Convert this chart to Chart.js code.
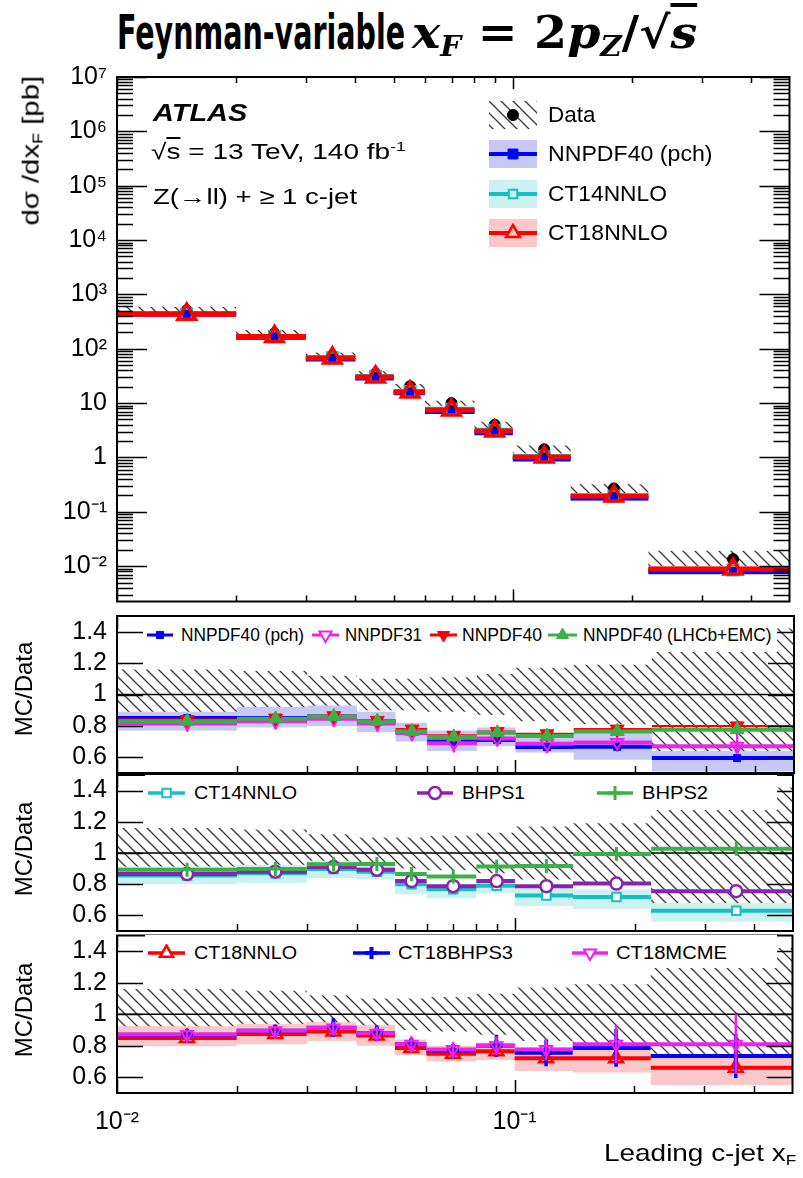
<!DOCTYPE html>
<html>
<head>
<meta charset="utf-8">
<title>Leading c-jet xF</title>
<script src="https://cdn.jsdelivr.net/npm/chart.js@4.4.1/dist/chart.umd.min.js"></script>
<style>
  body { margin: 0; background: #fff; }
  #page { position: relative; width: 803px; height: 1178px; overflow: hidden; background: #fff;
          font-family: "Liberation Sans", Arial, Helvetica, sans-serif; color: #000; }
  #page canvas.panel { position: absolute; left: 0; }
  .t { position: absolute; white-space: nowrap; line-height: 1; transform-origin: 0 50%; }
  .box { position: absolute; background: #fff; }
  sub { font-size: 0.62em; vertical-align: -0.3em; }
  sup { font-size: 0.62em; vertical-align: 0.6em; }
</style>
</head>
<body>
<div id="page">
  <canvas class="panel" id="cMain" width="803" height="555" style="top:60px"></canvas>
  <canvas class="panel" id="cR1" width="803" height="175" style="top:607px"></canvas>
  <canvas class="panel" id="cR2" width="803" height="176" style="top:765px"></canvas>
  <canvas class="panel" id="cR3" width="803" height="230" style="top:925px"></canvas>
</div>
<script>
'use strict';

/*================ values ================*/

var xEdges   = [0.01, 0.02, 0.03, 0.04, 0.05, 0.06, 0.08, 0.1, 0.14, 0.22, 0.5];
var xCenters = [0.015, 0.025, 0.035, 0.045, 0.055, 0.07, 0.09, 0.12, 0.18, 0.36];

// main panel, dsigma/dxF [pb]
var dataXsec       = [510, 192, 76, 35, 20.5, 10.0, 4.0, 1.42, 0.27, 0.0135];
var dataRelErr     = [0.16, 0.15, 0.12, 0.10, 0.10, 0.11, 0.13, 0.17, 0.19, 0.42];
var nnpdf40pchXsec = [434, 163, 65, 29, 15.6, 7.0, 2.84, 0.94, 0.18, 0.0080];
var ct14Xsec       = [436, 167, 68, 31, 16.4, 7.7, 3.16, 1.03, 0.194, 0.0085];
var ct18Xsec       = [433, 168, 67.5, 30.3, 16.1, 7.5, 3.06, 1.02, 0.195, 0.0089];

// ratio panel 1
var r1Nnpdf40pch   = [0.85, 0.85, 0.86, 0.83, 0.76, 0.70, 0.71, 0.665, 0.667, 0.595];
var r1Nnpdf40pchHi = [0.89, 0.92, 0.93, 0.89, 0.82, 0.77, 0.79, 0.735, 0.757, 0.64];
var r1Nnpdf40pchLo = [0.77, 0.79, 0.80, 0.76, 0.70, 0.64, 0.67, 0.63, 0.585, 0.51];
var r1Nnpdf31      = [0.815, 0.83, 0.845, 0.815, 0.755, 0.69, 0.72, 0.686, 0.695, 0.67];
var r1Nnpdf31Err   = [0.05, 0.05, 0.05, 0.05, 0.05, 0.06, 0.05, 0.06, 0.06, 0.09];
var r1Nnpdf40      = [0.84, 0.85, 0.865, 0.835, 0.78, 0.74, 0.765, 0.75, 0.78, 0.80];
var r1LhcbEmc      = [0.83, 0.845, 0.86, 0.83, 0.765, 0.73, 0.757, 0.735, 0.765, 0.776];

// ratio panel 2
var r2Ct14   = [0.855, 0.87, 0.897, 0.88, 0.80, 0.767, 0.79, 0.728, 0.718, 0.63];
var r2Ct14Hi = [0.913, 0.925, 0.95, 0.935, 0.83, 0.80, 0.83, 0.78, 0.767, 0.68];
var r2Ct14Lo = [0.80, 0.81, 0.84, 0.83, 0.735, 0.71, 0.745, 0.66, 0.64, 0.56];
var r2Bhps1  = [0.865, 0.88, 0.91, 0.893, 0.82, 0.787, 0.82, 0.787, 0.804, 0.755];
var r2Bhps2  = [0.893, 0.897, 0.928, 0.93, 0.865, 0.85, 0.913, 0.916, 0.994, 1.027];

// ratio panel 3
var r3Ct18     = [0.85, 0.875, 0.89, 0.865, 0.786, 0.75, 0.765, 0.72, 0.72, 0.66];
var r3Ct18Hi   = [0.924, 0.94, 0.95, 0.93, 0.84, 0.80, 0.82, 0.79, 0.80, 0.75];
var r3Ct18Lo   = [0.797, 0.81, 0.83, 0.80, 0.74, 0.70, 0.71, 0.64, 0.63, 0.55];
var r3Bhps3    = [0.87, 0.895, 0.915, 0.88, 0.81, 0.77, 0.80, 0.755, 0.786, 0.735];
var r3Bhps3Err = [0.02, 0.03, 0.06, 0.05, 0.04, 0.04, 0.07, 0.085, 0.12, 0.14];
var r3Mcme     = [0.871, 0.896, 0.913, 0.88, 0.81, 0.776, 0.80, 0.776, 0.81, 0.81];
var r3McmeErr  = [0.03, 0.03, 0.04, 0.04, 0.05, 0.05, 0.06, 0.07, 0.12, 0.19];

// ticks
var xTickVals        = [0.01, 0.1];
var xTickLabels      = ['10\u207B\u00B2', '10\u207B\u00B9'];
var mainYTickVals    = [1e-2, 1e-1, 1, 10, 1e2, 1e3, 1e4, 1e5, 1e6, 1e7];
var mainYTickLabels  = ['10\u207B\u00B2', '10\u207B\u00B9', '1', '10', '10\u00B2', '10\u00B3', '10\u2074', '10\u2075', '10\u2076', '10\u2077'];
var ratioYTickVals   = [0.6, 0.8, 1, 1.2, 1.4];
var ratioYTickLabels = ['0.6', '0.8', '1', '1.2', '1.4'];

/*================ styling ================*/

var FONT = '"Liberation Sans", Arial, Helvetica, sans-serif';
var COL = {
	blue: '#0000ff', blueBand: '#c8c8f6',
	magenta: '#ee22ee', red: '#ff0000', redBand: '#fac8c8',
	green: '#3caf47', cyan: '#14c0c0', cyanBand: '#ccf1f1', purple: '#8a22b0'
};
var CLEAR = 'rgba(0,0,0,0)';

function makeHatchTile() {
	var s = 12, c = document.createElement('canvas');
	c.width = s; c.height = s;
	var g = c.getContext('2d');
	g.strokeStyle = '#383838';
	g.lineWidth = 1.3;
	g.beginPath();
	g.moveTo(-2, -2); g.lineTo(s + 2, s + 2);
	g.moveTo(-2, s - 2); g.lineTo(2, s + 2);
	g.moveTo(s - 2, -2); g.lineTo(s + 2, 2);
	g.stroke();
	return c;
}
var hatchTile = makeHatchTile();
var hatch = document.createElement('canvas').getContext('2d').createPattern(hatchTile, 'repeat');

/*================ dataset helpers ================*/

function steps(vals) {
	var pts = vals.map(function(v, i) { return { x: xEdges[i], y: v }; });
	pts.push({ x: xEdges[vals.length], y: vals[vals.length - 1] });
	return pts;
}
function hbins(vals) {
	var pts = [];
	vals.forEach(function(v, i) {
		pts.push({ x: xEdges[i], y: v }, { x: xEdges[i + 1], y: v }, { x: xEdges[i + 1], y: null });
	});
	return pts;
}
function centers(vals) {
	return vals.map(function(v, i) { return { x: xCenters[i], y: v }; });
}
function vbars(vals, errs) {
	var pts = [];
	vals.forEach(function(v, i) {
		pts.push({ x: xCenters[i], y: v - errs[i] }, { x: xCenters[i], y: v + errs[i] }, { x: xCenters[i], y: null });
	});
	return pts;
}
function scaled(vals, num, den) {
	return vals.map(function(v, i) { return v * num[i] / den[i]; });
}

function band(list, lo, hi, color) {
	list.push({ data: steps(lo), stepped: true, borderWidth: 0, borderColor: CLEAR, pointRadius: 0, fill: false });
	list.push({ data: steps(hi), stepped: true, borderWidth: 0, borderColor: CLEAR, pointRadius: 0, fill: '-1', backgroundColor: color });
}
function hline(list, vals, color, width) {
	list.push({ data: hbins(vals), borderColor: color, borderWidth: width, pointRadius: 0, fill: false, spanGaps: false });
}
function errbars(list, vals, errs, color, width) {
	list.push({ data: vbars(vals, errs), borderColor: color, borderWidth: width, pointRadius: 0, fill: false, spanGaps: false });
}
function marks(list, vals, style, r, stroke, bg, bw, rot) {
	list.push({ data: centers(vals), showLine: false, pointStyle: style, pointRadius: r, pointBorderColor: stroke,
		pointBackgroundColor: bg, pointBorderWidth: bw, pointRotation: rot || 0, fill: false });
}
function refLine(list) {
	list.push({ data: [{ x: xEdges[0], y: 1 }, { x: xEdges[xEdges.length - 1], y: 1 }], borderColor: '#000', borderWidth: 1.5, pointRadius: 0, fill: false });
}
function finish(list) {
	// list is back-to-front; lower order is drawn on top
	list.forEach(function(d, i) { d.type = 'line'; d.order = list.length - i; });
	return list;
}

/*================ frame and inward ticks (ROOT style) ================*/

var xMinorTicks = [];
[0.01, 0.1].forEach(function(d) {
	for (var k = 2; k <= 9; k++) { if (d * k < 0.49) { xMinorTicks.push(d * k); } }
});
var mainYMinorTicks = [];
for (var e = -3; e <= 6; e++) {
	for (var k = 2; k <= 9; k++) {
		var v = k * Math.pow(10, e);
		if (v > 0.00224 && v < 1e7) { mainYMinorTicks.push(v); }
	}
}

function makeFrame(cfg) {
	return {
		id: 'rootFrame',
		afterDatasetsDraw: function(chart) {
			var ctx = chart.ctx, a = chart.chartArea, sx = chart.scales.x, sy = chart.scales.y;
			ctx.save();
			ctx.strokeStyle = '#000';
			ctx.lineWidth = 1.5;
			ctx.beginPath();
			function xt(vals, len) {
				vals.forEach(function(val) {
					var p = Math.round(sx.getPixelForValue(val)) + 0.5;
					ctx.moveTo(p, a.bottom); ctx.lineTo(p, a.bottom - len);
					ctx.moveTo(p, a.top); ctx.lineTo(p, a.top + len);
				});
			}
			function yt(vals, len) {
				vals.forEach(function(val) {
					var p = Math.round(sy.getPixelForValue(val)) + 0.5;
					ctx.moveTo(a.left, p); ctx.lineTo(a.left + len, p);
					ctx.moveTo(a.right, p); ctx.lineTo(a.right - len, p);
				});
			}
			xt(xTickVals, cfg.xMajor);
			xt(xMinorTicks, cfg.xMinor);
			yt(cfg.yMajorVals, cfg.yMajor);
			if (cfg.yMinorVals) { yt(cfg.yMinorVals, cfg.yMinor); }
			ctx.stroke();
			ctx.lineWidth = 2;
			ctx.strokeRect(a.left, a.top, a.right - a.left, a.bottom - a.top);
			ctx.restore();
		}
	};
}

/*================ scales ================*/

// labels may overhang the plot frame, so drop the padding Chart.js reserves for them
function noLabelPadding(sc) {
	sc.paddingTop = 0; sc.paddingBottom = 0; sc.paddingLeft = 0; sc.paddingRight = 0;
}

function xScale(shown) {
	var s = { type: 'logarithmic', min: xEdges[0], max: xEdges[xEdges.length - 1], display: shown };
	if (shown) {
		s.grid = { display: false, drawTicks: false };
		s.border = { display: false };
		s.ticks = { autoSkip: false, maxRotation: 0, minRotation: 0, padding: 14, color: '#000',
			font: { family: FONT, size: 25 },
			callback: function(val, i) { return xTickLabels[i]; } };
		s.afterBuildTicks = function(sc) { sc.ticks = xTickVals.map(function(v) { return { value: v }; }); };
		s.afterFit = function(sc) { sc.height = 62; noLabelPadding(sc); };
	}
	return s;
}
function yScale(type, min, max, vals, labels) {
	return {
		type: type, min: min, max: max,
		grid: { display: false, drawTicks: false },
		border: { display: false },
		ticks: { padding: 10, color: '#000', font: { family: FONT, size: 25 },
			callback: function(val, i) { return labels[i]; } },
		afterBuildTicks: function(sc) { sc.ticks = vals.map(function(v) { return { value: v }; }); },
		afterFit: function(sc) { sc.width = 117; noLabelPadding(sc); }
	};
}

function makeChart(id, datasets, y, showX, padding, frame) {
	return new Chart(document.getElementById(id), {
		type: 'line',
		data: { datasets: finish(datasets) },
		options: {
			responsive: false,
			animation: false,
			events: [],
			layout: { padding: padding },
			plugins: { legend: { display: false }, tooltip: { enabled: false } },
			scales: { x: xScale(showX), y: y }
		},
		plugins: [makeFrame(frame)]
	});
}

/*================ main panel ================*/

var mainSets = [];
band(mainSets, dataXsec.map(function(v, i) { return v * (1 - dataRelErr[i]); }),
	dataXsec.map(function(v, i) { return v * (1 + dataRelErr[i]); }), hatch);
band(mainSets, scaled(nnpdf40pchXsec, r1Nnpdf40pchLo, r1Nnpdf40pch), scaled(nnpdf40pchXsec, r1Nnpdf40pchHi, r1Nnpdf40pch), COL.blueBand);
band(mainSets, scaled(ct14Xsec, r2Ct14Lo, r2Ct14), scaled(ct14Xsec, r2Ct14Hi, r2Ct14), COL.cyanBand);
band(mainSets, scaled(ct18Xsec, r3Ct18Lo, r3Ct18), scaled(ct18Xsec, r3Ct18Hi, r3Ct18), COL.redBand);
hline(mainSets, ct14Xsec, COL.cyan, 5);
hline(mainSets, nnpdf40pchXsec, COL.blue, 5);
hline(mainSets, ct18Xsec, COL.red, 5);
marks(mainSets, dataXsec, 'circle', 5.5, '#000', '#000', 1);
marks(mainSets, nnpdf40pchXsec, 'rect', 5, COL.blue, COL.blue, 1);
marks(mainSets, ct14Xsec, 'rect', 7.5, COL.cyan, CLEAR, 2.5);
marks(mainSets, ct18Xsec, 'triangle', 10, COL.red, CLEAR, 3.5);

makeChart('cMain', mainSets,
	yScale('logarithmic', 0.00224, 1e7, mainYTickVals, mainYTickLabels),
	false, { top: 17, bottom: 12, left: 0, right: 3 },
	{ xMajor: 12, xMinor: 6, yMajorVals: mainYTickVals, yMajor: 30, yMinorVals: mainYMinorTicks, yMinor: 16 });

/*================ ratio panels ================*/

function hatchBand(list) {
	band(list, dataRelErr.map(function(d) { return 1 - d; }), dataRelErr.map(function(d) { return 1 + d; }), hatch);
	refLine(list);
}
var ratioFrame = { xMajor: 13, xMinor: 7, yMajorVals: ratioYTickVals, yMajor: 26 };

var r1Sets = [];
hatchBand(r1Sets);
band(r1Sets, r1Nnpdf40pchLo, r1Nnpdf40pchHi, COL.blueBand);
hline(r1Sets, r1Nnpdf40pch, COL.blue, 4);
hline(r1Sets, r1Nnpdf31, COL.magenta, 4);
hline(r1Sets, r1Nnpdf40, COL.red, 2);
hline(r1Sets, r1LhcbEmc, COL.green, 4);
errbars(r1Sets, r1Nnpdf31, r1Nnpdf31Err, COL.magenta, 2.5);
marks(r1Sets, r1Nnpdf40pch, 'rect', 5, COL.blue, COL.blue, 1);
marks(r1Sets, r1Nnpdf31, 'triangle', 7, COL.magenta, CLEAR, 2, 180);
marks(r1Sets, r1Nnpdf40, 'triangle', 8, COL.red, COL.red, 1, 180);
marks(r1Sets, r1LhcbEmc, 'triangle', 8, COL.green, COL.green, 1);
makeChart('cR1', r1Sets, yScale('linear', 0.5, 1.5, ratioYTickVals, ratioYTickLabels),
	false, { top: 8, bottom: 9, left: 0, right: 3 }, ratioFrame);

var r2Sets = [];
hatchBand(r2Sets);
band(r2Sets, r2Ct14Lo, r2Ct14Hi, COL.cyanBand);
hline(r2Sets, r2Ct14, COL.cyan, 4);
hline(r2Sets, r2Bhps1, COL.purple, 4);
hline(r2Sets, r2Bhps2, COL.green, 4);
marks(r2Sets, r2Ct14, 'rect', 6, COL.cyan, '#fff', 2);
marks(r2Sets, r2Bhps1, 'circle', 6, COL.purple, '#fff', 2.5);
marks(r2Sets, r2Bhps2, 'cross', 7, COL.green, COL.green, 3);
makeChart('cR2', r2Sets, yScale('linear', 0.5, 1.5, ratioYTickVals, ratioYTickLabels),
	false, { top: 8, bottom: 8, left: 0, right: 3 }, ratioFrame);

var r3Sets = [];
hatchBand(r3Sets);
band(r3Sets, r3Ct18Lo, r3Ct18Hi, COL.redBand);
hline(r3Sets, r3Ct18, COL.red, 4);
hline(r3Sets, r3Bhps3, COL.blue, 4);
hline(r3Sets, r3Mcme, COL.magenta, 4);
marks(r3Sets, r3Ct18, 'triangle', 8, COL.red, CLEAR, 2.5);
errbars(r3Sets, r3Bhps3, r3Bhps3Err, COL.blue, 3.5);
marks(r3Sets, r3Bhps3, 'cross', 6, COL.blue, COL.blue, 4);
errbars(r3Sets, r3Mcme, r3McmeErr, COL.magenta, 2.5);
marks(r3Sets, r3Mcme, 'triangle', 7, COL.magenta, CLEAR, 2, 180);
makeChart('cR3', r3Sets, yScale('linear', 0.5, 1.5, ratioYTickVals, ratioYTickLabels),
	true, { top: 8, bottom: 0, left: 0, right: 3 }, ratioFrame);

/*================ text and legends (HTML overlay) ================*/

var page = document.getElementById('page');

function textAt(html, left, cy, width, font) {
	var el = document.createElement('div');
	el.className = 't';
	el.style.font = font;
	el.innerHTML = html;
	page.appendChild(el);
	var w = el.offsetWidth, h = el.offsetHeight;
	el.style.left = left + 'px';
	el.style.top = (cy - h / 2) + 'px';
	if (width) { el.style.transform = 'scaleX(' + (width / w) + ')'; }
	return el;
}
function vTextAt(html, cx, cy, length, font) {
	var el = document.createElement('div');
	el.className = 't';
	el.style.font = font;
	el.innerHTML = html;
	page.appendChild(el);
	var w = el.offsetWidth, h = el.offsetHeight;
	el.style.left = (cx - w / 2) + 'px';
	el.style.top = (cy - h / 2) + 'px';
	el.style.transformOrigin = '50% 50%';
	el.style.transform = 'rotate(-90deg) scaleX(' + (length / w) + ')';
}
function whiteBox(left, top, w, h) {
	var el = document.createElement('div');
	el.className = 'box';
	el.style.left = left + 'px'; el.style.top = top + 'px';
	el.style.width = w + 'px'; el.style.height = h + 'px';
	page.appendChild(el);
}

function drawMarker(g, m, x, y) {
	var r = m.r;
	g.save();
	g.translate(x, y);
	if (m.rot) { g.rotate(m.rot * Math.PI / 180); }
	g.lineWidth = m.bw;
	g.strokeStyle = m.stroke;
	g.fillStyle = m.fill;
	g.beginPath();
	if (m.style === 'rect') {
		var s = r * Math.SQRT1_2;
		g.rect(-s, -s, 2 * s, 2 * s);
	} else if (m.style === 'triangle') {
		g.moveTo(0, -r);
		g.lineTo(r * Math.cos(Math.PI / 6), r / 2);
		g.lineTo(-r * Math.cos(Math.PI / 6), r / 2);
		g.closePath();
	} else if (m.style === 'circle') {
		g.arc(0, 0, r, 0, 2 * Math.PI);
	} else if (m.style === 'cross') {
		g.moveTo(-r, 0); g.lineTo(r, 0); g.moveTo(0, -r); g.lineTo(0, r);
	}
	if (m.style !== 'cross' && m.fill !== CLEAR) { g.fill(); }
	g.stroke();
	g.restore();
}
function icon(left, cy, w, h, spec) {
	var cv = document.createElement('canvas');
	cv.width = w; cv.height = h;
	cv.style.position = 'absolute';
	cv.style.left = left + 'px';
	cv.style.top = (cy - h / 2) + 'px';
	var g = cv.getContext('2d');
	if (spec.hatch) { g.fillStyle = g.createPattern(hatchTile, 'repeat'); g.fillRect(0, 0, w, h); }
	if (spec.box) { g.fillStyle = spec.box; g.fillRect(0, 0, w, h); }
	if (spec.line) {
		g.strokeStyle = spec.line; g.lineWidth = spec.lw;
		g.beginPath(); g.moveTo(0, h / 2); g.lineTo(w, h / 2); g.stroke();
	}
	drawMarker(g, spec.marker, w / 2, h / 2);
	page.appendChild(cv);
}

// title
textAt('Feynman-variable', 117, 32, 288, 'bold 48px "DejaVu Sans Condensed", "DejaVu Sans", sans-serif');
textAt('<i>x</i><sub><i>F</i></sub> = 2<i>p</i><sub><i>Z</i></sub>/\u221A<span style="text-decoration:overline"><i>s</i></span>',
	412, 34, 285, 'bold 44px "DejaVu Serif", serif');

// main panel annotations
textAt('ATLAS', 153, 113, 94, 'italic bold 24px ' + FONT);
textAt('\u221A<span style="text-decoration:overline">s</span> = 13 TeV, 140 fb<sup>-1</sup>', 151, 152, 255, '22px ' + FONT);
textAt('Z(\u2192ll) + \u2265 1 c-jet', 153, 197, 204, '22px ' + FONT);

// main legend
var LF = '22px ' + FONT;
icon(489, 115, 48, 28, { hatch: true, marker: { style: 'circle', r: 5.5, stroke: '#000', fill: '#000', bw: 1 } });
textAt('Data', 548, 115, 47, LF);
icon(489, 154, 48, 28, { box: COL.blueBand, line: COL.blue, lw: 4, marker: { style: 'rect', r: 7, stroke: COL.blue, fill: COL.blue, bw: 1 } });
textAt('NNPDF40 (pch)', 548, 154, 164, LF);
icon(489, 194, 48, 28, { box: COL.cyanBand, line: COL.cyan, lw: 4, marker: { style: 'rect', r: 6, stroke: COL.cyan, fill: COL.cyanBand, bw: 2 } });
textAt('CT14NNLO', 548, 194, 119, LF);
icon(489, 233, 48, 28, { box: COL.redBand, line: COL.red, lw: 4, marker: { style: 'triangle', r: 8, stroke: COL.red, fill: COL.redBand, bw: 2.5 } });
textAt('CT18NNLO', 548, 233, 120, LF);

// ratio legends
var RF = '18px ' + FONT;
whiteBox(145, 617, 632, 35);
icon(147, 635, 26, 18, { line: COL.blue, lw: 3, marker: { style: 'rect', r: 5, stroke: COL.blue, fill: COL.blue, bw: 1 } });
textAt('NNPDF40 (pch)', 181, 635, 123, RF);
icon(312, 635, 27, 18, { line: COL.magenta, lw: 3, marker: { style: 'triangle', r: 7, stroke: COL.magenta, fill: '#fff', bw: 2, rot: 180 } });
textAt('NNPDF31', 345, 635, 77, RF);
icon(430, 635, 27, 18, { line: COL.red, lw: 3, marker: { style: 'triangle', r: 7, stroke: COL.red, fill: COL.red, bw: 1, rot: 180 } });
textAt('NNPDF40', 462, 635, 80, RF);
icon(548, 635, 29, 18, { line: COL.green, lw: 3, marker: { style: 'triangle', r: 7, stroke: COL.green, fill: COL.green, bw: 1 } });
textAt('NNPDF40 (LHCb+EMC)', 583, 635, 189, RF);

whiteBox(145, 775, 632, 35);
icon(148, 793, 37, 18, { line: COL.cyan, lw: 3.5, marker: { style: 'rect', r: 6, stroke: COL.cyan, fill: '#fff', bw: 2 } });
textAt('CT14NNLO', 194, 793, 103, RF);
icon(417, 793, 36, 18, { line: COL.purple, lw: 3.5, marker: { style: 'circle', r: 6, stroke: COL.purple, fill: '#fff', bw: 2.5 } });
textAt('BHPS1', 462, 793, 63, RF);
icon(597, 793, 36, 18, { line: COL.green, lw: 3.5, marker: { style: 'cross', r: 7, stroke: COL.green, fill: COL.green, bw: 3 } });
textAt('BHPS2', 642, 793, 66, RF);

whiteBox(145, 935, 632, 33);
icon(148, 953, 37, 18, { line: COL.red, lw: 3.5, marker: { style: 'triangle', r: 7.5, stroke: COL.red, fill: '#fff', bw: 2.5 } });
textAt('CT18NNLO', 194, 953, 103, RF);
icon(353, 953, 37, 18, { line: COL.blue, lw: 3.5, marker: { style: 'cross', r: 6, stroke: COL.blue, fill: COL.blue, bw: 4 } });
textAt('CT18BHPS3', 398, 953, 115, RF);
icon(572, 953, 36, 18, { line: COL.magenta, lw: 3.5, marker: { style: 'triangle', r: 7, stroke: COL.magenta, fill: '#fff', bw: 2, rot: 180 } });
textAt('CT18MCME', 616, 953, 111, RF);

// axis titles
vTextAt('d\u03C3 /dx<sub>F</sub> [pb]', 31, 150, 150, '24px ' + FONT);
vTextAt('MC/Data', 24, 689, 95, '24px ' + FONT);
vTextAt('MC/Data', 24, 849, 95, '24px ' + FONT);
vTextAt('MC/Data', 24, 1010, 95, '24px ' + FONT);
textAt('Leading c-jet x<sub>F</sub>', 604, 1153, 192, '24px ' + FONT);
</script>
</body>
</html>
